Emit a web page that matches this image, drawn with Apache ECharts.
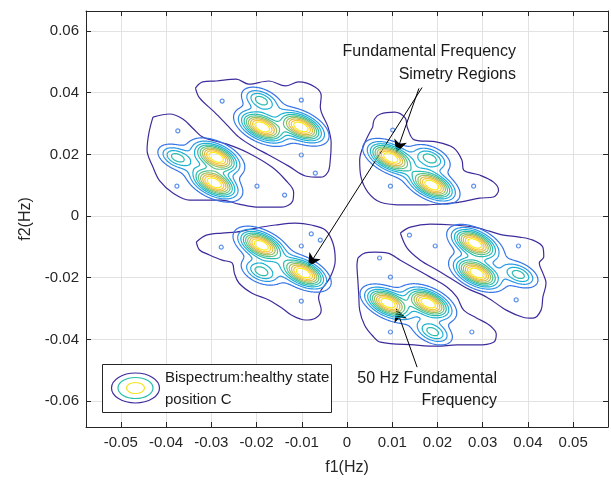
<!DOCTYPE html>
<html><head><meta charset="utf-8">
<script src="https://cdn.jsdelivr.net/npm/echarts@6/dist/echarts.min.js"></script>
<style>html,body{margin:0;padding:0;background:#fff}#c{width:611px;height:485px}</style>
</head><body><div id="c"></div>
<script>
// ---------- data ----------
const xRange = [-0.0577, 0.0577];
const yRange = [-0.0684, 0.0665];
const xTickStep = 0.01;
const yTickStep = 0.02;

// main bispectrum peaks (f1, f2, relative amplitude)
const peakF1  = [-0.0188, -0.0101, -0.0289, -0.0293, 0.0096, 0.0188, -0.0190, -0.0096, 0.0090, 0.0180, 0.0282, 0.0287];
const peakF2  = [ 0.0289,  0.0289,  0.0191,  0.0107, 0.0190, 0.0100, -0.0094, -0.0185, -0.0282, -0.0282, -0.0088, -0.0185];
const peakAmp = [1, 1, 1, 1, 1, 1, 1, 1, 1, 1, 1, 1];
// weaker secondary peaks
const secF1  = [-0.0190, -0.0376, 0.0184, -0.0190, 0.0190, 0.0380];
const secF2  = [ 0.0376,  0.0190, 0.0188, -0.0180, -0.0376, -0.0190];
const secAmp = [0.42, 0.42, 0.42, 0.42, 0.42, 0.42];
// broad lobe shoulders
const lobeF1  = [-0.0160, -0.0310, 0.0156, -0.0160, 0.0153, 0.0316];
const lobeF2  = [ 0.0310,  0.0160, 0.0160, -0.0153, -0.0310, -0.0154];
const lobeAmp = [0.065, 0.065, 0.065, 0.065, 0.065, 0.065];
// spreads (f units) along the (1,-1) and (1,1) directions
const peakSpread = [0.0034, 0.0020];
const secSpread  = [0.0028, 0.0018];
const lobeSpread = [0.0075, 0.0048];

// contour levels
const levels = [0.1, 0.2, 0.3, 0.4, 0.5, 0.6, 0.7, 0.8, 0.9];

// outermost contour of each lobe [f1, f2]
const outlineA = [[-0.0335,0.0415],[-0.0319,0.0435],[-0.0289,0.0438],[-0.0245,0.0444],[-0.0217,0.0428],[-0.0173,0.0438],[-0.0136,0.0422],[-0.0107,0.0435],[-0.0070,0.0418],[-0.0057,0.0389],[-0.0059,0.0354],[-0.0042,0.0289],[-0.0035,0.0237],[-0.0037,0.0182],[-0.0042,0.0143],[-0.0059,0.0126],[-0.0092,0.0130],[-0.0129,0.0162],[-0.0173,0.0198],[-0.0206,0.0224],[-0.0239,0.0256],[-0.0265,0.0295],[-0.0293,0.0337],[-0.0326,0.0383]];
const outlineB = [[-0.0429,0.0321],[-0.0392,0.0331],[-0.0363,0.0315],[-0.0341,0.0285],[-0.0319,0.0256],[-0.0267,0.0234],[-0.0217,0.0204],[-0.0166,0.0159],[-0.0136,0.0117],[-0.0118,0.0078],[-0.0120,0.0049],[-0.0144,0.0029],[-0.0195,0.0029],[-0.0239,0.0039],[-0.0278,0.0052],[-0.0348,0.0052],[-0.0385,0.0075],[-0.0414,0.0114],[-0.0429,0.0159],[-0.0442,0.0214],[-0.0438,0.0269]];
const outlineC = [[0.0057,0.0289],[0.0061,0.0315],[0.0074,0.0331],[0.0105,0.0337],[0.0129,0.0318],[0.0133,0.0289],[0.0149,0.0247],[0.0199,0.0240],[0.0236,0.0221],[0.0254,0.0182],[0.0258,0.0149],[0.0293,0.0133],[0.0324,0.0110],[0.0335,0.0084],[0.0324,0.0062],[0.0293,0.0058],[0.0249,0.0045],[0.0206,0.0039],[0.0171,0.0036],[0.0127,0.0036],[0.0074,0.0045],[0.0046,0.0078],[0.0031,0.0126],[0.0028,0.0182],[0.0039,0.0237]];
const outlineD = [[-0.0333,-0.0084],[-0.0311,-0.0062],[-0.0276,-0.0055],[-0.0245,-0.0052],[-0.0201,-0.0039],[-0.0158,-0.0029],[-0.0114,-0.0023],[-0.0079,-0.0029],[-0.0048,-0.0045],[-0.0031,-0.0088],[-0.0026,-0.0143],[-0.0037,-0.0198],[-0.0057,-0.0240],[-0.0063,-0.0263],[-0.0057,-0.0305],[-0.0070,-0.0331],[-0.0092,-0.0337],[-0.0123,-0.0321],[-0.0144,-0.0298],[-0.0173,-0.0272],[-0.0210,-0.0250],[-0.0239,-0.0217],[-0.0249,-0.0185],[-0.0254,-0.0152],[-0.0276,-0.0143],[-0.0304,-0.0126],[-0.0326,-0.0110]];
const outlineE = [[0.0024,-0.0136],[0.0039,-0.0120],[0.0061,-0.0117],[0.0090,-0.0120],[0.0118,-0.0143],[0.0149,-0.0169],[0.0184,-0.0198],[0.0221,-0.0230],[0.0243,-0.0263],[0.0258,-0.0305],[0.0287,-0.0331],[0.0315,-0.0354],[0.0330,-0.0383],[0.0324,-0.0409],[0.0287,-0.0418],[0.0243,-0.0418],[0.0199,-0.0422],[0.0149,-0.0418],[0.0074,-0.0409],[0.0057,-0.0389],[0.0039,-0.0354],[0.0028,-0.0305],[0.0026,-0.0256],[0.0024,-0.0208],[0.0022,-0.0159]];
const outlineF = [[0.0118,-0.0055],[0.0140,-0.0036],[0.0184,-0.0026],[0.0236,-0.0029],[0.0280,-0.0036],[0.0315,-0.0049],[0.0346,-0.0062],[0.0381,-0.0068],[0.0411,-0.0078],[0.0433,-0.0101],[0.0435,-0.0133],[0.0425,-0.0152],[0.0433,-0.0185],[0.0440,-0.0217],[0.0433,-0.0263],[0.0429,-0.0305],[0.0411,-0.0331],[0.0389,-0.0328],[0.0352,-0.0305],[0.0309,-0.0263],[0.0265,-0.0234],[0.0228,-0.0201],[0.0199,-0.0175],[0.0162,-0.0143],[0.0133,-0.0104]];
const outlines = [outlineA, outlineB, outlineC, outlineD, outlineE, outlineF];

// tiny isolated contour islands
const islandF1 = [-0.0276,-0.0101,-0.0374,-0.0101,-0.0070,-0.0376,-0.0199,-0.0138,0.0101,0.0096,0.0280,-0.0278,-0.0101,-0.0079,-0.0059,-0.0101,0.0138,0.0195,0.0379,0.0072,0.0096,0.0374,0.0096,0.0276];
const islandF2 = [0.0373,0.0376,0.0276,0.0198,0.0139,0.0097,0.0097,0.0068,0.0279,0.0097,0.0097,-0.0101,-0.0097,-0.0058,-0.0078,-0.0276,-0.0062,-0.0097,-0.0097,-0.0136,-0.0198,-0.0272,-0.0376,-0.0376];

// annotation arrows [f1, f2]
const arrowFrom = [[0.0159, 0.0414], [0.0166, 0.0417], [0.0155, -0.0490]];
const arrowTo   = [[0.0109, 0.0205], [-0.0086, -0.0164], [0.0109, -0.0300]];

// ---------- styles ----------
const outlineColor = '#3d2c9b';
const levelColors = ['#3574e6','#2b98e6','#1db2d3','#2bbcae','#5cc18a','#9cc162','#d9bb4c','#fbc53a','#f7ec1c'];
const axisColor = '#262626';
const FONT = '"Liberation Sans", Arial, Helvetica, sans-serif';

// ---------- field + contouring ----------
const comps = [];
function addComps(f1s, f2s, amps, sp) {
  for (let k = 0; k < f1s.length; k++) comps.push({cx: f1s[k], cy: f2s[k], a: amps[k], su: sp[0], sv: sp[1]});
}
addComps(peakF1, peakF2, peakAmp, peakSpread);
addComps(secF1, secF2, secAmp, secSpread);
addComps(lobeF1, lobeF2, lobeAmp, lobeSpread);

const step = 0.0002;
const gx0 = xRange[0], gy0 = yRange[0];
const nx = Math.floor((xRange[1] - gx0) / step) + 1;
const ny = Math.floor((yRange[1] - gy0) / step) + 1;
const vals = new Float64Array(nx * ny);
const R2 = Math.SQRT1_2;
comps.forEach(c => {
  const r = 4.5 * Math.max(c.su, c.sv);
  const i0 = Math.max(0, Math.floor((c.cx - r - gx0) / step)), i1 = Math.min(nx - 1, Math.ceil((c.cx + r - gx0) / step));
  const j0 = Math.max(0, Math.floor((c.cy - r - gy0) / step)), j1 = Math.min(ny - 1, Math.ceil((c.cy + r - gy0) / step));
  const ku = 1 / (2 * c.su * c.su), kv = 1 / (2 * c.sv * c.sv);
  for (let j = j0; j <= j1; j++) {
    const dy = gy0 + j * step - c.cy;
    for (let i = i0; i <= i1; i++) {
      const dx = gx0 + i * step - c.cx;
      const u = (dx - dy) * R2, v = (dx + dy) * R2;
      vals[j * nx + i] += c.a * Math.exp(-(u * u * ku + v * v * kv));
    }
  }
});

function contour(L) {
  const NH = nx * ny;
  const pts = new Map();
  const adj = new Map();
  function add(id, p) { if (!pts.has(id)) { pts.set(id, p); adj.set(id, []); } }
  function link(a, b) { adj.get(a).push(b); adj.get(b).push(a); }
  for (let j = 0; j < ny - 1; j++) {
    for (let i = 0; i < nx - 1; i++) {
      const a = vals[j * nx + i], b = vals[j * nx + i + 1], c = vals[(j + 1) * nx + i + 1], d = vals[(j + 1) * nx + i];
      const idx = (a > L ? 1 : 0) | (b > L ? 2 : 0) | (c > L ? 4 : 0) | (d > L ? 8 : 0);
      if (idx === 0 || idx === 15) continue;
      const e = [j * nx + i, NH + j * nx + i + 1, (j + 1) * nx + i, NH + j * nx + i];
      const P = [
        () => [gx0 + (i + (L - a) / (b - a)) * step, gy0 + j * step],
        () => [gx0 + (i + 1) * step, gy0 + (j + (L - b) / (c - b)) * step],
        () => [gx0 + (i + (L - d) / (c - d)) * step, gy0 + (j + 1) * step],
        () => [gx0 + i * step, gy0 + (j + (L - a) / (d - a)) * step]
      ];
      let segs;
      const ctr = (a + b + c + d) / 4;
      switch (idx) {
        case 1: segs = [[3, 0]]; break;
        case 2: segs = [[0, 1]]; break;
        case 3: segs = [[3, 1]]; break;
        case 4: segs = [[1, 2]]; break;
        case 5: segs = ctr > L ? [[0, 1], [2, 3]] : [[3, 0], [1, 2]]; break;
        case 6: segs = [[0, 2]]; break;
        case 7: segs = [[3, 2]]; break;
        case 8: segs = [[2, 3]]; break;
        case 9: segs = [[0, 2]]; break;
        case 10: segs = ctr > L ? [[3, 0], [1, 2]] : [[0, 1], [2, 3]]; break;
        case 11: segs = [[1, 2]]; break;
        case 12: segs = [[1, 3]]; break;
        case 13: segs = [[0, 1]]; break;
        case 14: segs = [[0, 3]]; break;
      }
      segs.forEach(s => { add(e[s[0]], P[s[0]]()); add(e[s[1]], P[s[1]]()); link(e[s[0]], e[s[1]]); });
    }
  }
  const visited = new Set();
  const paths = [];
  function walk(start) {
    const path = [pts.get(start)];
    visited.add(start);
    let cur = start;
    while (true) {
      const nxt = adj.get(cur).find(n => !visited.has(n));
      if (nxt === undefined) { if (adj.get(cur).includes(start) && path.length > 2) path.push(pts.get(start)); break; }
      visited.add(nxt); path.push(pts.get(nxt)); cur = nxt;
    }
    if (path.length > 1) paths.push(path);
  }
  adj.forEach((v, k) => { if (!visited.has(k) && v.length === 1) walk(k); });
  adj.forEach((v, k) => { if (!visited.has(k)) walk(k); });
  return paths;
}

// ---------- chart ----------
function tickFmt(stepV) {
  return v => {
    const q = v / stepV;
    if (Math.abs(q - Math.round(q)) > 1e-6) return '';
    const r = Math.round(q) * stepV;
    return String(+r.toFixed(4));
  };
}

const series = [];
outlines.forEach(o => {
  series.push({
    type: 'line', data: o.concat([o[0]]), smooth: 0.35, showSymbol: false, symbol: 'none', silent: true,
    lineStyle: {color: outlineColor, width: 1.2}, z: 2
  });
});
levels.forEach((L, k) => {
  series.push({
    type: 'lines', coordinateSystem: 'cartesian2d', polyline: true, silent: true,
    data: contour(L).map(p => ({coords: p})),
    lineStyle: {color: levelColors[k], width: 1.2, opacity: 1, curveness: 0}, z: 3 + k
  });
});
series.push({
  type: 'scatter', silent: true, symbol: 'circle', symbolSize: 4,
  data: islandF1.map((f, k) => [f, islandF2[k]]),
  itemStyle: {color: 'rgba(255,255,255,0)', borderColor: levelColors[0], borderWidth: 1.2}, z: 3
});
series.push({
  type: 'line', data: [], silent: true,
  markLine: {
    silent: true, animation: false, symbol: ['none', 'arrow'], symbolSize: [10, 13],
    label: {show: false},
    lineStyle: {color: '#000', width: 1, type: 'solid'},
    emphasis: {disabled: true},
    data: arrowFrom.map((s, k) => [{coord: s}, {coord: arrowTo[k]}])
  }, z: 20
});

const chart = echarts.init(document.getElementById('c'), null, {renderer: 'canvas'});
const axisCommonX = {
  type: 'value', min: xRange[0], max: xRange[1], splitNumber: 11,
  axisLine: {show: true, onZero: false, lineStyle: {color: axisColor, width: 1}},
  axisTick: {show: true, inside: true, length: 5, lineStyle: {color: axisColor}},
};
const axisCommonY = {
  type: 'value', min: yRange[0], max: yRange[1], splitNumber: 7,
  axisLine: {show: true, onZero: false, lineStyle: {color: axisColor, width: 1}},
  axisTick: {show: true, inside: true, length: 5, lineStyle: {color: axisColor}},
};
chart.setOption({
  animation: false,
  grid: {left: 86, right: -2, top: 11, bottom: 58, containLabel: false},
  xAxis: [
    Object.assign({}, axisCommonX, {
      position: 'bottom',
      axisLabel: {color: axisColor, fontSize: 15, fontFamily: FONT, margin: 8, formatter: tickFmt(xTickStep)},
      splitLine: {show: true, lineStyle: {color: '#e2e2e2', width: 1}},
      name: 'f1(Hz)', nameLocation: 'middle', nameGap: 33,
      nameTextStyle: {color: axisColor, fontSize: 16, fontFamily: FONT}
    }),
    Object.assign({}, axisCommonX, {position: 'top', axisLabel: {show: false}, splitLine: {show: false}})
  ],
  yAxis: [
    Object.assign({}, axisCommonY, {
      position: 'left',
      axisLabel: {color: axisColor, fontSize: 15, fontFamily: FONT, margin: 7, formatter: tickFmt(yTickStep)},
      splitLine: {show: true, lineStyle: {color: '#e2e2e2', width: 1}},
      name: 'f2(Hz)', nameLocation: 'middle', nameGap: 46, nameRotate: 90,
      nameTextStyle: {color: axisColor, fontSize: 16, fontFamily: FONT}
    }),
    Object.assign({}, axisCommonY, {position: 'right', axisLabel: {show: false}, splitLine: {show: false}})
  ],
  series: series,
  graphic: [
    {type: 'text', z: 100, style: {text: 'Fundamental Frequency', x: 516, y: 52, align: 'right', verticalAlign: 'middle', font: '16px ' + FONT, fill: '#1a1a1a'}},
    {type: 'text', z: 100, style: {text: 'Simetry Regions', x: 516, y: 75, align: 'right', verticalAlign: 'middle', font: '16px ' + FONT, fill: '#1a1a1a'}},
    {type: 'text', z: 100, style: {text: '50 Hz Fundamental', x: 497, y: 379, align: 'right', verticalAlign: 'middle', font: '16px ' + FONT, fill: '#1a1a1a'}},
    {type: 'text', z: 100, style: {text: 'Frequency', x: 497, y: 401, align: 'right', verticalAlign: 'middle', font: '16px ' + FONT, fill: '#1a1a1a'}},
    {type: 'rect', z: 100, shape: {x: 102.5, y: 364.5, width: 229, height: 48}, style: {fill: '#fff', stroke: axisColor, lineWidth: 1}},
    {type: 'ellipse', z: 101, shape: {cx: 135.5, cy: 388, rx: 24, ry: 15}, style: {fill: 'none', stroke: outlineColor, lineWidth: 1.2}},
    {type: 'ellipse', z: 101, shape: {cx: 135.5, cy: 388, rx: 17.5, ry: 10.5}, style: {fill: 'none', stroke: '#27bfa8', lineWidth: 1.2}},
    {type: 'ellipse', z: 101, shape: {cx: 135.5, cy: 388, rx: 9, ry: 5.5}, style: {fill: 'none', stroke: '#f2e41e', lineWidth: 1.2}},
    {type: 'text', z: 101, style: {text: 'Bispectrum:healthy state', x: 165, y: 378, verticalAlign: 'middle', font: '15px ' + FONT, fill: '#1a1a1a'}},
    {type: 'text', z: 101, style: {text: 'position C', x: 165, y: 400, verticalAlign: 'middle', font: '15px ' + FONT, fill: '#1a1a1a'}}
  ]
});
</script>
</body></html>
